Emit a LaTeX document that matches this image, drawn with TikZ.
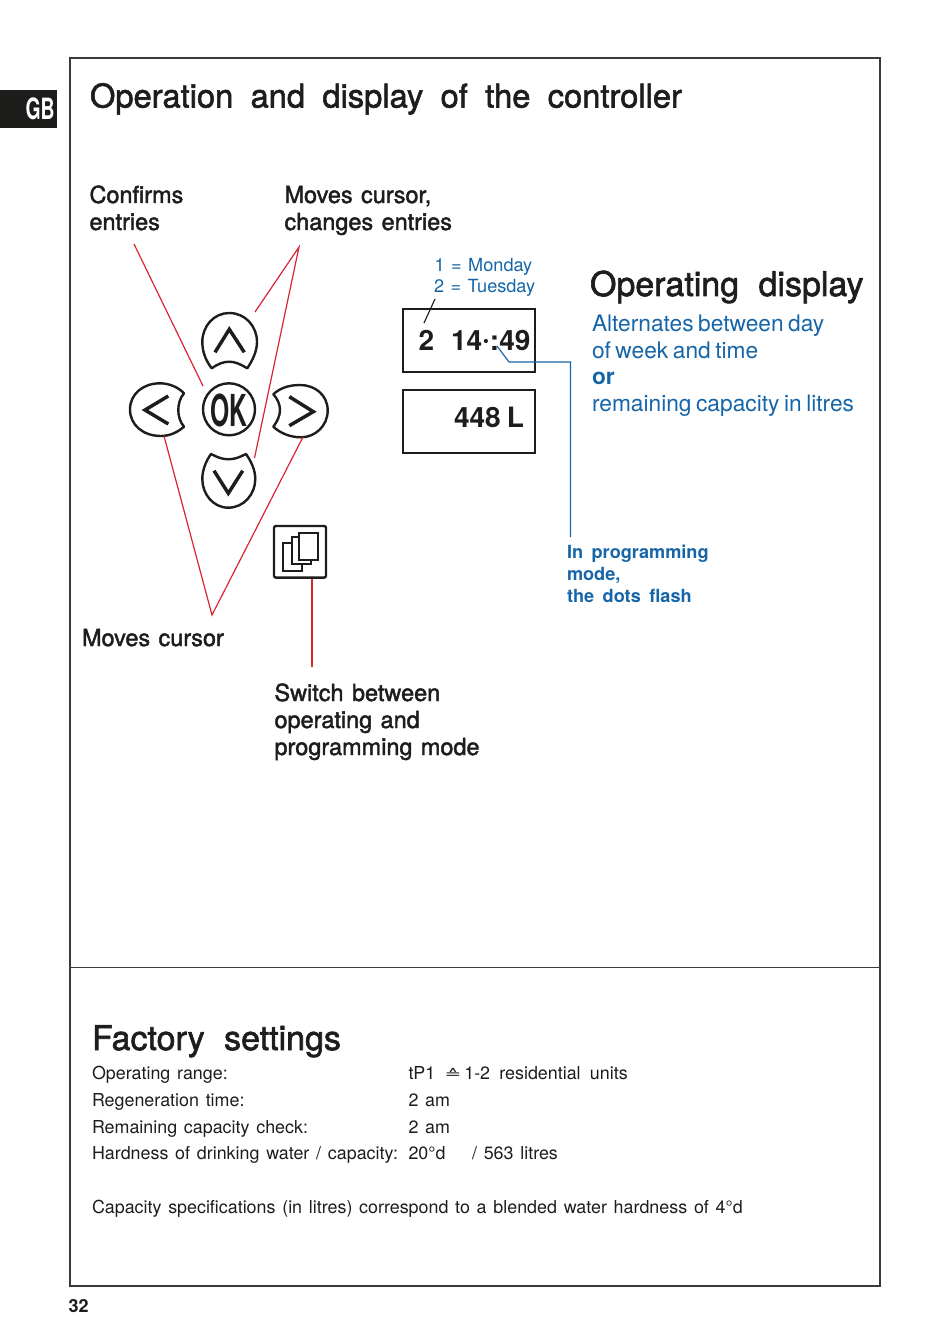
\documentclass[tikz,border=0pt]{standalone}
\usepackage{fontspec}
\setmainfont{TeX Gyre Heros}
\newfontfamily\fMed[FakeBold=1.8]{TeX Gyre Heros}
\newfontfamily\fBold{TeX Gyre Heros Bold}
\newfontfamily\fReg{TeX Gyre Heros}
\newfontfamily\fDejaVu{DejaVu Sans}
\newcommand\setfnt[4]{#1\fontsize{#2}{#3}\selectfont\spaceskip #4\relax}
\definecolor{ink}{HTML}{1D1D1B}
\definecolor{fr}{HTML}{3A3A3A}
\definecolor{bl}{HTML}{1565A8}
\definecolor{rd}{HTML}{D9252F}
\tikzset{
 x=0.75pt,y=-0.75pt,
 txt/.style={anchor=base west,inner sep=0pt,outer sep=0pt,text=ink},
 ttl/.style={txt,font=\setfnt{\fMed}{24.5}{30}{13pt}},
 sub/.style={txt,font=\setfnt{\fMed}{25.5}{30}{14.6pt}},
 lab/.style={txt,font=\setfnt{\fMed}{17.6}{20}{6.3pt}},
 blt/.style={txt,text=bl,font=\setfnt{\fReg}{17.05}{20}{0.2em}},
 bltb/.style={txt,text=bl,font=\fBold\fontsize{17}{20}\selectfont},
 bls/.style={txt,text=bl,font=\setfnt{\fReg}{13.6}{16}{0.36em}},
 blb/.style={txt,text=bl,font=\setfnt{\fBold}{13.6}{16}{0.47em}},
 fac/.style={txt,font=\setfnt{\fReg}{13.4}{16}{0.38em}},
 disp/.style={txt,font=\setfnt{\fBold}{21}{24}{0.22em}},
 btn/.style={draw=ink,line width=1.8pt,fill=white,line join=round},
 chev/.style={draw=ink,line width=2.6pt,line join=miter},
 red/.style={draw=rd,line width=0.9pt},
 blue/.style={draw=bl,line width=0.85pt},
 box/.style={draw=ink,line width=1.5pt},
 page/.style={draw=ink,line width=1.4pt,fill=white},
}
\begin{document}
\begin{tikzpicture}
\useasboundingbox (0,0) rectangle (950,1344);
% frame
\draw[draw=fr,line width=0.8pt] (70,58) rectangle (880,1286);
\coordinate (divL) at (70,967.5); \coordinate (divR) at (880,967.5);
\draw[draw=fr,line width=0.7pt] (divL) -- (divR);
% GB tab
\fill[ink] (0,90) rectangle (57,128);
\node[txt,text=white,font=\fBold\fontsize{22}{24}\selectfont] (gb) at (25.5,119.5) {\scalebox{0.66}[1]{GB}};
% titles
\node[ttl] (title) at (90,107.5) {Operation and display of the controller};
\node[lab] (c1) at (89.5,203) {Confirms};
\node[lab] (c2) at (89.5,230) {entries};
\node[lab] (m1) at (284.5,203) {Moves cursor,};
\node[lab] (m2) at (284.5,230) {changes entries};
\node[bls] (d1) at (434.5,271.5) {1 = Monday};
\node[bls] (d2) at (434,292) {2 = Tuesday};
\node[sub] (od) at (590,296) {Operating display};
\node[blt] (o1) at (592,331) {Alternates between day};
\node[blt] (o2) at (592,358) {of week and time};
\node[bltb] (o3) at (592,384) {or};
\node[blt] (o4) at (592,411) {remaining capacity in litres};
\node[blb] (p1) at (567,558) {In programming};
\node[blb] (p2) at (567,580) {mode,};
\node[blb] (p3) at (567,602) {the dots flash};
\node[lab] (mc) at (82,646) {Moves cursor};
\node[lab] (s1) at (274.5,701) {Switch between};
\node[lab] (s2) at (274.5,728) {operating and};
\node[lab] (s3) at (274.5,755) {programming mode};
% buttons
\path[btn] (229.3,313) .. controls (245,313) and (257,326) .. (257,342) .. controls (257,352) and (252,361) .. (247.3,368.3) .. controls (240,364) and (235,361.7) .. (229.3,361.7) .. controls (223,361.7) and (218,364) .. (211.7,368.3) .. controls (206,361) and (202.3,352) .. (202.3,342) .. controls (202.3,326) and (214,313) .. (229.3,313) -- cycle;
\draw[chev] (215,352.3) -- (229.3,329.3) -- (244.3,352.3);
\path[btn] (228.3,507.7) .. controls (213,507.7) and (202.3,494) .. (202.3,479) .. controls (202.3,470) and (206,461) .. (211,454) .. controls (217,457) and (222,459.3) .. (228.3,459.3) .. controls (235,459.3) and (240,457) .. (246,454) .. controls (251,461) and (255.3,470) .. (255.3,479) .. controls (255.3,494) and (244,507.7) .. (228.3,507.7) -- cycle;
\draw[chev] (214,470.7) -- (228.3,493.3) -- (242.7,470.7);
\path[btn] (130,409.5) .. controls (130,394) and (143,383.3) .. (160,383.3) .. controls (169,383.3) and (178,387) .. (184,393.3) .. controls (180,398) and (178.3,404) .. (178.3,410) .. controls (178.3,416) and (180,422) .. (184,426.7) .. controls (178,432) and (170,436) .. (161,436) .. controls (143,436) and (130,425) .. (130,409.5) -- cycle;
\draw[chev] (168.3,396) -- (145,410) -- (168.3,424);
\path[btn] (327.7,410.5) .. controls (327.7,395) and (315,385) .. (300,385) .. controls (289,385) and (280,388) .. (273.3,394.3) .. controls (277,398) and (280,404) .. (280,410) .. controls (280,416) and (277,422) .. (273.3,426.7) .. controls (280,433) and (290,437.3) .. (301,437.3) .. controls (315,437.3) and (327.7,426) .. (327.7,410.5) -- cycle;
\draw[chev] (289.3,396.7) -- (313.3,411.7) -- (289.3,425.7);
\node[draw=ink,line width=1.8pt,circle,minimum size=39pt,inner sep=0pt,fill=white] (ok) at (229,409.3) {};
\node[txt,anchor=center,font=\fBold\fontsize{33}{36}\selectfont] (oktxt) at (228.5,410) {\scalebox{0.56}[1]{OK}};
% mode button
\node[draw=ink,line width=1.8pt,rounded corners=1.5pt,inner sep=0pt,minimum width=39pt,minimum height=38.75pt] (mode) at (300,551.8) {};
\draw[page] (282.7,542.7) rectangle (302.3,570.7);
\draw[page] (291.7,537.3) rectangle (311,564.3);
\draw[page] (299,532.7) rectangle (318.3,560);
% displays
\node[box,inner sep=0pt,minimum width=99pt,minimum height=47.25pt] (dsp1) at (469,340.5) {};
\node[box,inner sep=0pt,minimum width=99pt,minimum height=47.25pt] (dsp2) at (469,421.5) {};
\node[disp] (t2) at (418.5,350) {2};
\node[disp] (t3) at (451,350) {14\raisebox{0.1ex}{·}:49};
\node[disp] (t4) at (454,427) {448 L};
% connectors
\coordinate (a1) at (134,244); \coordinate (a2) at (203,386);
\coordinate (b0) at (299,247); \coordinate (b1) at (255,312); \coordinate (b2) at (254.5,458);
\coordinate (e0) at (212,615); \coordinate (e1) at (164,436); \coordinate (e2) at (303,437);
\coordinate (f1) at (312,578.5); \coordinate (f2) at (312,667);
\coordinate (g1) at (435,299); \coordinate (g2) at (424,323);
\coordinate (h1) at (497,346); \coordinate (h2) at (509,362); \coordinate (h3) at (570.5,362); \coordinate (h4) at (570.5,537);
\draw[red] (a1) -- (a2);
\draw[red] (b1) -- (b0) -- (b2);
\draw[red] (e1) -- (e0) -- (e2);
\draw[red] (f1) -- (f2);
\draw[draw=ink,line width=0.85pt] (g1) -- (g2);
\draw[blue] (h1) -- (h2) -- (h3) -- (h4);
% factory
\node[sub] (fs) at (92,1050) {Factory settings};
\node[fac] (r1) at (92,1079) {Operating range:};
\node[fac] (r2) at (92,1106) {Regeneration time:};
\node[fac] (r3) at (92,1133) {Remaining capacity check:};
\node[fac] (r4) at (92,1159) {Hardness of drinking water / capacity:};
\node[fac] (v1) at (408.5,1079) {\spaceskip=0.52em\relax tP1 \raisebox{0.5pt}{\scalebox{1}[0.62]{\fDejaVu\fontsize{15}{16}\selectfont ≙}}\,1-2 residential units};
\node[fac] (v2) at (408.5,1106) {2 am};
\node[fac] (v3) at (408.5,1133) {2 am};
\node[fac] (v4) at (408.5,1159) {20°d};
\node[fac] (v5) at (472,1159) {/ 563 litres};
\node[fac] (note) at (92,1213) {Capacity specifications (in litres) correspond to a blended water hardness of 4°d};
\node[txt,font=\fBold\fontsize{13.5}{16}\selectfont] (pg) at (68.5,1312) {32};
\end{tikzpicture}
\end{document}
